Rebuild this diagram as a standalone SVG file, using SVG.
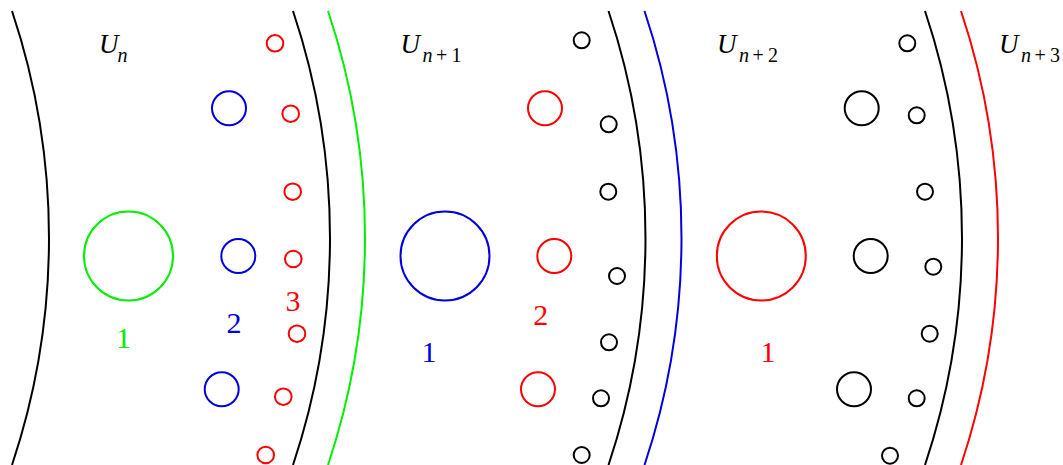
<svg xmlns="http://www.w3.org/2000/svg" width="1063" height="465" viewBox="0 0 1063 465">
<style>
.arc{fill:none;stroke-width:2}
.c{fill:none;stroke-width:2}
.k{stroke:#000}
.r{stroke:#ff0000}
.g{stroke:#00ee00}
.b{stroke:#0000dd}
.lab{font-family:"Liberation Serif","DejaVu Serif",serif;font-size:30px;text-anchor:middle}
.U{font-family:"Liberation Serif","DejaVu Serif",serif;font-size:27px;fill:#000}
.it{font-style:italic}
.sub{font-size:20px}
</style>
<rect width="1063" height="465" fill="#fff"/>
<g id="boundaries">
<path class="arc k" d="M12 11 A715 715 0 0 1 12 465"/>
<path class="arc k" d="M293 11 A715 715 0 0 1 293 465"/>
<path class="arc g" d="M328 11 A715 715 0 0 1 328 465"/>
<path class="arc k" d="M608.5 11 A715 715 0 0 1 608.5 465"/>
<path class="arc b" d="M644.5 11 A715 715 0 0 1 644.5 465"/>
<path class="arc k" d="M925 11 A715 715 0 0 1 925 465"/>
<path class="arc r" d="M961 11 A715 715 0 0 1 961 465"/>
</g>
<g id="panel-n">
<circle id="n-big" class="c g" cx="128.5" cy="256" r="44.5"/>
<circle class="c b" cx="229" cy="108.3" r="17"/>
<circle class="c b" cx="238.3" cy="256" r="17"/>
<circle class="c b" cx="221.7" cy="389.3" r="17"/>
<circle class="c r" cx="275" cy="43.3" r="8.3"/>
<circle class="c r" cx="290.7" cy="113.7" r="8.3"/>
<circle class="c r" cx="292.7" cy="191.7" r="8.3"/>
<circle class="c r" cx="293.3" cy="259" r="8.3"/>
<circle class="c r" cx="297" cy="333.7" r="8.3"/>
<circle class="c r" cx="283.3" cy="396.7" r="8.3"/>
<circle class="c r" cx="265.7" cy="455" r="8.3"/>
<text class="lab" x="123.5" y="347.5" fill="#00ee00">1</text>
<text class="lab" x="234" y="333" fill="#0000dd">2</text>
<text class="lab" x="293" y="310.5" fill="#ff0000">3</text>
<text class="U" y="52.5"><tspan class="it" x="99">U</tspan><tspan class="it sub" x="117.5" y="61.5">n</tspan></text>
</g>
<g id="panel-n1">
<circle id="n1-big" class="c b" cx="445" cy="256" r="44.5"/>
<circle class="c r" cx="545" cy="108.3" r="17"/>
<circle class="c r" cx="554.3" cy="256" r="17"/>
<circle class="c r" cx="538" cy="389.3" r="17"/>
<circle class="c k" cx="581.7" cy="40.3" r="8"/>
<circle class="c k" cx="608.7" cy="124.3" r="8"/>
<circle class="c k" cx="608.3" cy="191.7" r="8"/>
<circle class="c k" cx="617" cy="276" r="8"/>
<circle class="c k" cx="609" cy="342.3" r="8"/>
<circle class="c k" cx="601" cy="398.3" r="8"/>
<circle class="c k" cx="581.7" cy="455" r="8"/>
<text class="lab" x="429" y="362" fill="#0000dd">1</text>
<text class="lab" x="540.7" y="324.5" fill="#ff0000">2</text>
<text class="U" y="53"><tspan class="it" x="400.5">U</tspan><tspan class="it sub" x="422.5" y="62">n</tspan><tspan class="sub" x="436" y="62">+</tspan><tspan class="sub" x="451.5" y="62">1</tspan></text>
</g>
<g id="panel-n2">
<circle id="n2-big" class="c r" cx="761.3" cy="256" r="44.5"/>
<circle class="c k" cx="861.7" cy="108.3" r="17"/>
<circle class="c k" cx="870.7" cy="256" r="17"/>
<circle class="c k" cx="854" cy="389.3" r="17"/>
<circle class="c k" cx="907.3" cy="43.3" r="8"/>
<circle class="c k" cx="916.7" cy="115.3" r="8"/>
<circle class="c k" cx="925" cy="191.7" r="8"/>
<circle class="c k" cx="933.3" cy="266.7" r="8"/>
<circle class="c k" cx="929.7" cy="333.7" r="8"/>
<circle class="c k" cx="916.7" cy="398.3" r="8"/>
<circle class="c k" cx="890" cy="455.7" r="8"/>
<text class="lab" x="768" y="362" fill="#ff0000">1</text>
<text class="U" y="53"><tspan class="it" x="717">U</tspan><tspan class="it sub" x="739" y="62">n</tspan><tspan class="sub" x="752.5" y="62">+</tspan><tspan class="sub" x="768" y="62">2</tspan></text>
</g>
<g id="panel-n3">
<text class="U" y="53"><tspan class="it" x="999">U</tspan><tspan class="it sub" x="1021" y="62">n</tspan><tspan class="sub" x="1034.5" y="62">+</tspan><tspan class="sub" x="1050" y="62">3</tspan></text>
</g>
</svg>
